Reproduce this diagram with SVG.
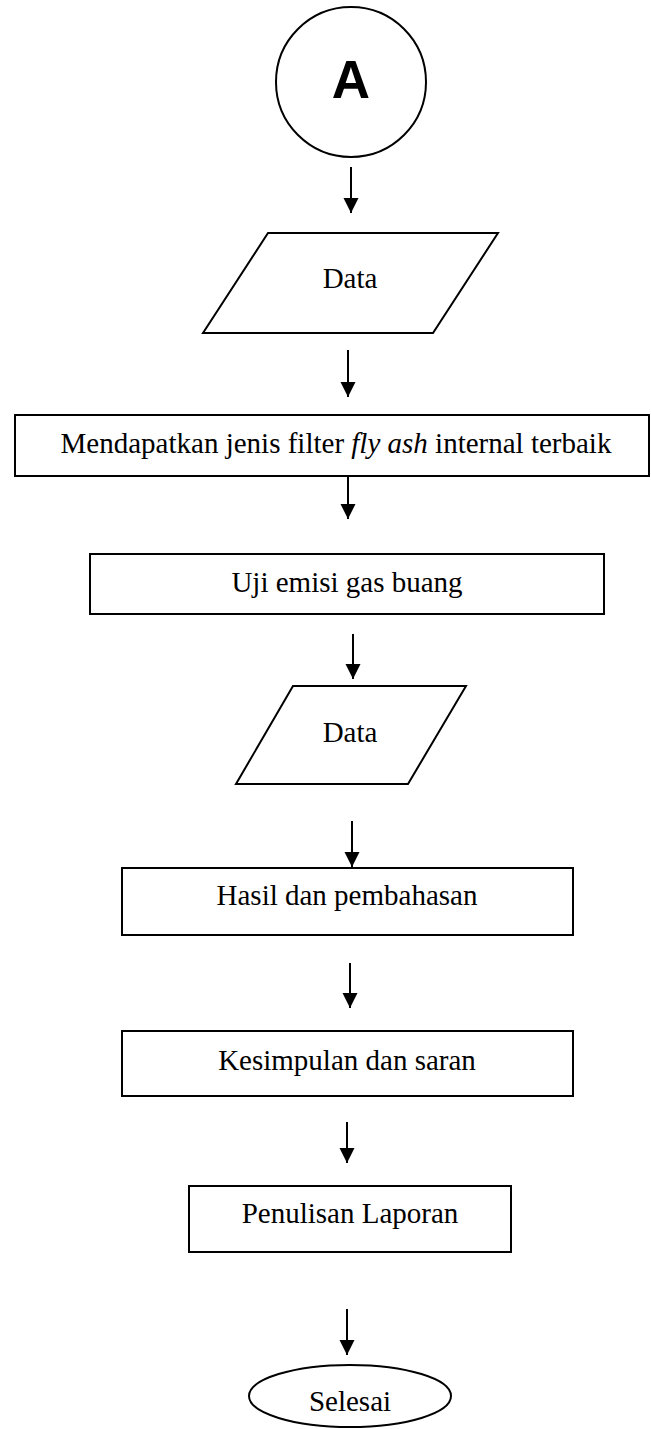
<svg xmlns="http://www.w3.org/2000/svg" width="651" height="1429" viewBox="0 0 651 1429">
<style>
.shape{fill:#fff;stroke:#000;stroke-width:2}
.lbl{font-family:"Liberation Serif","Times New Roman",serif;font-size:29px;fill:#000;text-anchor:middle}
.conn{stroke:#000;stroke-width:2;fill:none;marker-end:url(#ah)}
</style>
<defs>
<marker id="ah" markerUnits="userSpaceOnUse" markerWidth="16" markerHeight="16" refX="15" refY="7.5" orient="auto">
<path d="M0,0 L15,7.5 L0,15 z" fill="#000"/>
</marker>
</defs>
<rect width="651" height="1429" fill="#fff"/>
<g id="connectors">
<line class="conn" x1="351" y1="167" x2="351" y2="213"/>
<line class="conn" x1="348" y1="350" x2="348" y2="397"/>
<line class="conn" x1="348" y1="476" x2="348" y2="519"/>
<line class="conn" x1="353" y1="634" x2="353" y2="679"/>
<line class="conn" x1="352" y1="821" x2="352" y2="867"/>
<line class="conn" x1="350" y1="963" x2="350" y2="1008"/>
<line class="conn" x1="347" y1="1122" x2="347" y2="1163"/>
<line class="conn" x1="347" y1="1309" x2="347" y2="1355"/>
</g>
<g id="nodeA">
<circle class="shape" cx="351" cy="82" r="75"/>
<text x="351" y="98" style="font-family:'Liberation Sans',Arial,sans-serif;font-weight:bold;font-size:53px;text-anchor:middle">A</text>
</g>
<g id="data1">
<polygon class="shape" points="268,233 498,233 433,333 203,333"/>
<text class="lbl" x="350" y="288">Data</text>
</g>
<g id="mendapatkan">
<rect class="shape" x="15" y="415" width="634" height="61"/>
<text class="lbl" x="336" y="453">Mendapatkan jenis filter <tspan font-style="italic">fly ash</tspan> internal terbaik</text>
</g>
<g id="uji">
<rect class="shape" x="90" y="554" width="514" height="60"/>
<text class="lbl" x="347" y="592">Uji emisi gas buang</text>
</g>
<g id="data2">
<polygon class="shape" points="293,686 466,686 408,784 236,784"/>
<text class="lbl" x="350" y="742">Data</text>
</g>
<g id="hasil">
<rect class="shape" x="122" y="868" width="451" height="67"/>
<text class="lbl" x="347" y="905">Hasil dan pembahasan</text>
</g>
<g id="kesimpulan">
<rect class="shape" x="122" y="1031" width="451" height="65"/>
<text class="lbl" x="347" y="1070">Kesimpulan dan saran</text>
</g>
<g id="penulisan">
<rect class="shape" x="189" y="1186" width="322" height="66"/>
<text class="lbl" x="350" y="1223">Penulisan Laporan</text>
</g>
<g id="selesai">
<ellipse class="shape" cx="350" cy="1396" rx="101" ry="31"/>
<text class="lbl" x="350" y="1411">Selesai</text>
</g>
</svg>
